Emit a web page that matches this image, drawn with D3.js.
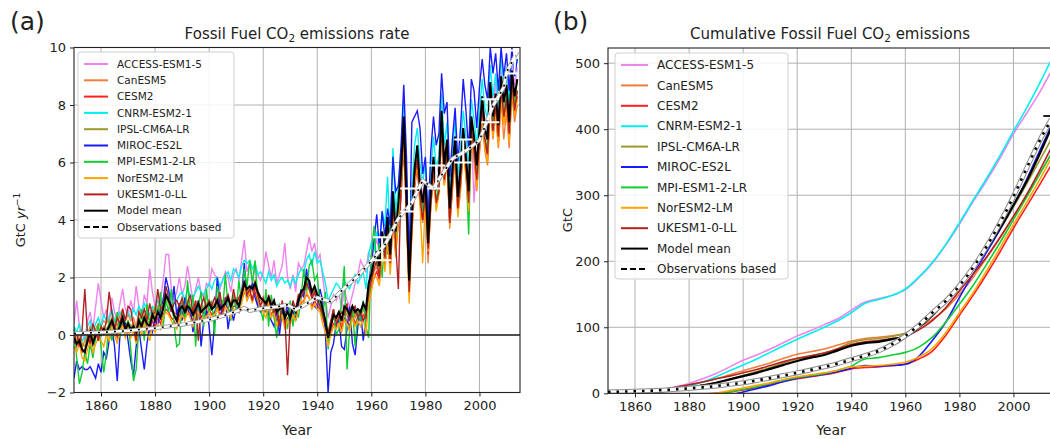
<!DOCTYPE html>
<html lang="en">
<head>
<meta charset="UTF-8" />
<title>fossil fuel co2</title>
<script src="https://cdn.jsdelivr.net/npm/d3@7"></script>
<style>
  body { margin: 0; background: #fff; }
  svg { display: block; font-family: "DejaVu Sans", sans-serif; }
</style>
</head>
<body>
<svg id="chart" width="1050" height="439"></svg>
<script>
// ---- data ----
const models = ["ACCESS-ESM1-5", "CanESM5", "CESM2", "CNRM-ESM2-1", "IPSL-CM6A-LR",
  "MIROC-ES2L", "MPI-ESM1-2-LR", "NorESM2-LM", "UKESM1-0-LL"];
const colors = ["violet", "#f47c3c", "#ff1f1f", "#00f0f0", "#9b9b2e",
  "#1a1aff", "#11cc33", "#ffa500", "#b22222"];

const years = d3.range(1850, 2015);

// emission rate, GtC/yr, one value per year 1850..2014
const rateACCESS = [
  0.4, 1.2, 0.3, 0.1, -0.2, 0.5, 0.8, 0.2, 1.0, 1.8,
  1.2, 0.6, 0.9, 0.4, 1.3, 0.8, 0.5, 1.1, 1.6, 0.9,
  0.7, 1.2, 0.8, 1.7, 1.0, 0.6, 1.4, 1.1, 2.3, 1.5,
  1.0, 1.4, 1.2, 1.9, 2.8, 2.8, 1.6, 1.2, 1.5, 2.0,
  1.4, 1.7, 2.4, 1.8, 1.2, 1.6, 2.0, 1.5, 1.3, 1.8,
  1.7, 2.3, 2.1, 2.0, 1.6, 1.9, 2.2, 2.0, 1.5, 2.1,
  2.3, 1.9, 2.6, 3.3, 2.2, 2.5, 1.8, 2.4, 2.1, 1.9,
  2.2, 2.9, 2.4, 2.0, 2.6, 1.8, 2.1, 2.4, 3.2, 2.0,
  1.6, 2.1, 1.5, 2.5, 2.3, 2.4, 2.9, 3.4, 2.9, 3.2,
  2.6, 2.8, 2.0, 1.3, 0.6, 1.0, 1.4, 1.2, 1.5, 0.9,
  1.6, 1.2, 1.0, 1.4, 1.8, 2.1, 2.6, 2.4, 2.2, 2.9,
  2.6, 3.0, 3.3, 2.9, 3.4, 2.8, 3.6, 3.1, 4.8, 3.5,
  4.4, 5.5, 7.0, 5.0, 2.5, 4.5, 5.6, 6.3, 5.4, 4.9,
  5.2, 3.6, 5.3, 6.0, 5.6, 5.9, 7.4, 6.1, 6.5, 4.7,
  6.0, 6.6, 5.2, 6.1, 7.0, 6.5, 5.4, 7.2, 4.6, 6.2,
  7.4, 8.0, 7.5, 7.1, 8.5, 7.9, 8.8, 7.5, 9.2, 8.4,
  9.0, 7.8, 9.5, 8.7, 9.3];
const rateCanESM5 = [
  0.2, -0.3, 0.1, -0.4, -0.2, 0.0, 0.3, -0.1, 0.2, 0.4,
  0.3, 0.5, 0.4, 0.6, 0.8, 0.5, 0.3, 0.7, 0.9, 0.5,
  0.7, 0.5, 0.6, 0.3, 0.8, 0.6, 0.9, 0.7, 0.5, 0.9,
  0.7, 1.0, 0.8, 1.1, 1.3, 1.2, 1.0, 0.8, 0.7, 1.1,
  1.1, 0.9, 1.2, 1.0, 0.8, 1.1, 1.2, 0.9, 1.0, 1.1,
  1.2, 1.0, 1.1, 1.3, 1.0, 1.2, 1.3, 1.4, 1.1, 1.3,
  1.3, 1.2, 1.5, 1.7, 1.5, 1.6, 1.5, 1.9, 1.4, 1.2,
  1.1, 1.0, 1.2, 0.9, 1.1, 0.7, 0.9, 1.0, 0.6, 0.8,
  0.7, 1.0, 0.8, 1.2, 1.4, 1.5, 1.7, 1.6, 1.3, 1.4,
  1.2, 1.1, 0.8, 0.4, 0.0, 0.3, 0.6, 0.5, 0.7, 0.4,
  0.8, 0.7, 0.5, 0.9, 0.6, 0.8, 0.6, 0.9, 0.7, 1.4,
  1.7, 2.2, 2.4, 2.0, 3.1, 2.5, 3.5, 2.4, 4.4, 3.0,
  4.1, 5.0, 6.8, 4.3, 1.4, 3.7, 5.3, 5.9, 4.7, 3.9,
  4.9, 2.5, 4.6, 5.6, 4.4, 5.0, 7.2, 5.2, 6.1, 3.7,
  5.0, 6.2, 4.2, 5.1, 6.6, 5.7, 4.2, 6.9, 6.1, 5.0,
  6.3, 7.6, 6.4, 5.9, 7.9, 6.8, 7.7, 6.5, 8.2, 6.8,
  7.8, 6.5, 8.4, 7.4, 8.0];
const rateCESM2 = [
  -0.2, -0.4, -0.1, -0.6, -0.5, -0.3, 0.0, -0.2, 0.1, -0.1,
  0.1, 0.0, 0.2, 0.1, 0.4, 0.3, -0.1, 0.2, 0.4, 0.1,
  0.3, 0.1, 0.2, -0.1, 0.4, 0.2, 0.5, 0.3, 0.1, 0.5,
  0.3, 0.6, 0.4, 0.7, 0.9, 0.8, 0.6, 0.5, 0.3, 0.7,
  0.8, 0.6, 0.9, 0.7, 0.5, 0.8, 0.9, 0.6, 0.8, 0.7,
  0.9, 0.7, 0.8, 1.0, 0.7, 0.9, 1.1, 0.9, 0.8, 1.0,
  1.0, 0.9, 1.2, 1.5, 1.3, 1.4, 1.2, 1.5, 1.1, 1.0,
  0.9, 0.8, 1.0, 0.7, 0.9, 0.5, 0.6, 0.8, 0.4, 0.6,
  0.5, 0.8, 0.6, 1.0, 1.1, 1.2, 1.4, 1.3, 1.0, 1.2,
  1.0, 0.9, 0.6, 0.3, -0.3, 0.1, 0.4, 0.3, 0.6, 0.2,
  0.6, 0.5, 0.3, 0.7, 0.4, 0.6, 0.5, 0.7, 0.5, 1.2,
  1.6, 2.0, 2.2, 1.9, 2.8, 2.4, 3.2, 2.3, 4.0, 2.9,
  3.9, 4.8, 6.6, 4.2, 1.6, 3.6, 5.1, 5.9, 4.6, 4.0,
  4.8, 2.8, 4.5, 5.6, 4.5, 5.0, 7.0, 5.3, 6.1, 3.9,
  5.2, 6.3, 4.3, 5.2, 6.6, 5.6, 4.5, 7.0, 6.3, 5.3,
  6.5, 7.7, 6.6, 6.2, 8.1, 7.0, 7.8, 6.7, 8.4, 7.5,
  8.0, 6.8, 8.6, 7.7, 8.3];
const rateCNRM = [
  0.3, 0.1, 0.4, -0.2, -0.1, 0.3, 0.5, 0.1, 0.4, 0.6,
  0.3, 0.7, 0.5, 0.6, 0.9, 0.5, 0.6, 0.8, 0.7, 0.6,
  0.8, 0.6, 0.9, 0.7, 1.0, 0.8, 1.1, 0.9, 0.7, 1.0,
  0.9, 1.2, 1.0, 1.3, 1.6, 1.5, 1.3, 1.1, 1.2, 1.4,
  1.5, 1.2, 1.6, 1.4, 1.3, 1.5, 1.7, 1.5, 1.4, 1.6,
  1.8, 1.6, 1.9, 2.0, 1.7, 1.9, 2.1, 2.2, 1.9, 2.3,
  2.2, 2.0, 2.4, 2.6, 2.5, 2.6, 2.3, 2.5, 2.1, 2.2,
  2.0, 1.8, 2.2, 1.9, 2.1, 1.7, 1.9, 2.0, 1.8, 1.9,
  1.7, 2.0, 1.8, 2.1, 2.3, 2.2, 2.6, 2.8, 2.4, 2.9,
  2.5, 2.6, 2.2, 1.8, 1.2, 1.4, 1.6, 1.8, 1.7, 1.5,
  1.9, 1.7, 1.6, 1.9, 2.1, 1.8, 2.0, 2.2, 1.6, 2.8,
  3.2, 2.9, 3.6, 3.1, 4.3, 3.8, 5.5, 3.4, 6.5, 4.2,
  5.2, 6.3, 8.2, 5.6, 2.6, 5.0, 6.6, 7.2, 6.0, 5.3,
  6.0, 4.0, 5.7, 6.9, 5.8, 6.2, 8.4, 6.6, 7.4, 5.1,
  6.4, 7.5, 5.5, 6.5, 7.8, 6.9, 5.8, 8.2, 7.5, 6.6,
  7.8, 8.9, 7.9, 7.5, 9.4, 8.3, 9.1, 8.0, 9.6, 8.8,
  9.3, 8.1, 9.8, 9.0, 9.6];
const rateIPSL = [
  0.0, -0.2, 0.1, -0.3, -0.4, 0.0, 0.2, -0.1, 0.1, 0.2,
  0.1, 0.3, 0.2, 0.4, 0.6, 0.3, 0.2, 0.4, 0.7, 0.3,
  0.5, 0.3, 0.4, 0.2, 0.6, 0.4, 0.7, 0.5, 0.4, 0.8,
  0.6, 0.9, 0.7, 1.0, 1.3, 1.1, 0.9, 0.7, 0.6, 1.0,
  1.0, 0.8, 1.1, 0.9, 0.7, 1.0, 1.1, 0.8, 0.9, 1.0,
  1.1, 0.9, 1.0, 1.2, 0.9, 1.1, 1.2, 1.3, 1.0, 1.2,
  1.2, 1.1, 1.4, 1.8, 1.5, 1.7, 1.6, 1.9, 1.5, 1.3,
  1.2, 1.1, 1.3, 1.0, 1.2, 0.8, 1.0, 1.1, 0.7, 0.9,
  0.7, 1.0, 0.9, 1.2, 1.5, 1.6, 1.9, 1.8, 1.4, 1.6,
  1.3, 1.2, 0.9, 0.5, 0.0, 0.3, 0.7, 0.6, 0.8, 0.5,
  0.9, 0.8, 0.6, 1.0, 0.7, 0.9, 0.7, 1.0, 0.8, 1.6,
  2.0, 2.5, 2.8, 2.3, 3.5, 2.9, 4.0, 2.7, 4.9, 3.5,
  4.5, 5.7, 7.4, 4.7, 1.8, 4.1, 5.7, 6.5, 5.1, 4.5,
  5.3, 3.1, 4.9, 6.1, 5.0, 5.5, 7.7, 5.8, 6.7, 4.3,
  5.7, 6.8, 4.7, 5.7, 7.1, 6.1, 4.9, 7.5, 6.8, 5.8,
  7.0, 8.2, 7.1, 6.7, 8.7, 7.5, 8.3, 7.2, 8.9, 8.0,
  8.6, 7.3, 9.1, 8.2, 8.8];
const rateMIROC = [
  -1.5, -0.9, -1.2, -1.1, -1.2, -1.2, -1.1, -1.3, -1.5, -1.0,
  -1.3, -0.6, -0.8, -0.2, 0.3, -0.4, -1.6, 0.0, 0.6, 0.4,
  -0.2, -0.9, -1.4, -0.4, 0.2, -0.5, -1.2, -0.3, 0.3, 0.1,
  0.6, 0.3, 0.9, 1.2, 2.0, 1.6, 0.8, 1.7, 0.7, 1.1,
  0.5, 1.3, 0.7, 1.0, 0.1, 0.6, 1.2, -0.4, 0.5, 0.9,
  0.3, -0.7, 0.4, 2.0, 1.1, 0.6, 1.3, 0.2, 0.9, 0.5,
  1.0, 0.8, 1.4, 2.5, 1.2, 1.5, 1.8, 1.3, 1.0, 0.8,
  0.9, 1.2, 0.7, 0.5, 0.3, 0.9, 0.0, 0.8, 0.6, 1.1,
  0.4, 0.8, 0.5, 1.0, 1.6, 1.3, 2.3, 1.7, 1.4, 1.0,
  0.9, 1.6, 1.2, 0.1, -2.0, -0.6, -0.3, 0.4, 0.5, -0.4,
  -0.5, 0.2, 1.0, -0.3, -0.7, 0.3, 0.9, -0.2, 0.6, 1.7,
  2.5, 3.3, 4.2, 3.0, 4.3, 3.4, 4.4, 3.8, 6.2, 5.0,
  5.2, 6.6, 8.7, 6.2, 2.4, 7.4, 7.6, 7.8, 7.2, 5.6,
  6.2, 4.0, 6.4, 7.6, 6.6, 7.0, 9.1, 7.7, 8.1, 5.5,
  6.8, 7.9, 6.0, 7.2, 8.9, 7.8, 6.4, 8.9, 8.5, 7.2,
  8.6, 9.6, 8.7, 8.2, 10.0, 9.1, 9.8, 8.5, 10.0, 9.0,
  9.8, 8.5, 10.0, 9.0, 9.6];
const rateMPI = [
  0.3, -0.8, -1.7, -1.3, -0.6, -1.0, -0.3, -0.8, -0.1, 0.4,
  -0.4, -1.3, -0.6, 0.5, -0.2, 0.3, 0.8, -0.1, 0.7, 0.2,
  0.5, -0.5, -1.6, -1.2, 0.3, 0.9, -0.2, 1.1, 0.4, 0.6,
  1.0, 0.7, 1.5, 0.3, 1.2, 0.8, 1.6, 0.4, -0.4, -0.3,
  1.2, 0.5, 1.9, 0.8, 1.4, -0.4, 1.0, 1.5, 0.3, 1.6,
  0.7, 1.2, 0.0, 1.7, 1.3, 0.9, 2.1, 1.0, 0.5, 1.4,
  0.8, 1.9, 1.1, 2.3, 1.7, 2.6, 1.8, 2.6, 1.2, 0.9,
  0.5, 1.6, 0.3, 1.4, 0.6, -0.1, 1.1, 0.5, 0.8, 0.2,
  1.2, 0.3, 1.0, 0.6, 1.3, 2.3, 1.4, 2.4, 2.6, 1.9,
  2.1, 1.0, 0.6, 1.5, -0.5, 0.4, 0.9, 0.0, 0.2, 1.2,
  2.4, -1.2, 0.2, 1.0, -0.4, 0.8, 0.5, 1.2, 0.3, -0.1,
  2.8, 3.8, 2.4, 3.2, 2.0, 3.5, 2.8, 3.3, 4.3, 3.4,
  4.2, 5.1, 6.7, 4.6, 2.0, 3.9, 5.4, 6.0, 5.2, 4.3,
  5.0, 3.0, 4.8, 5.9, 4.6, 5.3, 7.2, 5.5, 6.3, 4.1,
  5.4, 6.4, 4.5, 5.6, 6.9, 5.9, 3.5, 7.0, 6.6, 5.7,
  6.9, 8.0, 6.8, 6.5, 8.6, 7.3, 8.1, 7.0, 8.7, 7.7,
  8.3, 7.0, 8.9, 8.0, 8.5];
const rateNorESM = [
  -0.4, -0.6, -0.3, -0.8, -0.9, -0.5, -0.2, -0.6, -0.3, -0.1,
  -0.2, -0.4, 0.0, -0.2, 0.3, 0.0, -0.3, 0.2, 0.3, -0.1,
  0.2, -0.1, 0.1, -0.3, 0.3, 0.0, 0.4, 0.1, -0.2, 0.3,
  0.1, 0.4, 0.2, 0.6, 0.8, 0.7, 0.5, 0.3, 0.2, 0.5,
  0.7, 0.5, 0.8, 0.6, 0.3, 0.7, 0.8, 0.5, 0.6, 0.6,
  0.8, 0.5, 0.7, 0.9, 0.6, 0.7, 1.0, 0.8, 0.6, 0.9,
  0.9, 0.8, 1.1, 1.6, 1.2, 1.5, 1.1, 1.8, 1.3, 0.9,
  0.8, 0.6, 1.1, 0.6, 0.8, 0.3, 0.6, 0.7, 0.2, 0.5,
  0.4, 0.7, 0.5, 0.9, 1.2, 1.1, 1.5, 1.3, 0.9, 1.1,
  0.9, 0.8, 0.4, 0.1, -0.4, 0.0, 0.3, 0.2, 0.4, 0.1,
  0.5, 0.4, 0.1, 0.6, 0.3, 0.5, 0.3, 0.6, 0.0, 1.1,
  1.5, 2.1, 2.0, 1.7, 3.0, 2.2, 3.3, 2.1, 4.2, 2.7,
  4.0, 5.0, 6.9, 4.0, 1.1, 3.5, 5.2, 6.0, 4.5, 2.5,
  4.7, 2.9, 4.4, 5.7, 4.3, 4.9, 7.1, 5.2, 6.0, 3.8,
  5.1, 6.2, 4.1, 5.0, 6.5, 5.5, 4.3, 6.9, 6.2, 5.1,
  6.4, 7.6, 6.5, 6.0, 8.0, 6.9, 7.7, 6.6, 8.3, 7.3,
  7.9, 6.7, 8.5, 7.6, 8.2];
const rateUKESM = [
  -0.3, 0.1, -0.4, 0.2, 1.6, 0.0, -0.3, 0.4, 0.1, -0.2,
  0.3, 0.1, 0.5, 1.5, 0.8, 0.2, 0.6, 0.4, 0.9, 0.5,
  1.0, 0.9, 0.3, -0.2, 0.8, 0.6, 0.9, 0.5, 1.1, 0.7,
  0.8, 1.6, 0.9, 1.0, 1.7, 1.3, 0.8, 1.1, 1.2, 1.0,
  1.3, 0.9, 1.1, 1.4, 0.8, 1.2, -0.2, 1.0, 1.3, 0.9,
  1.2, 1.0, 1.3, 1.1, 1.5, 0.8, 1.2, 1.4, 0.9, 1.6,
  1.1, 1.3, 1.5, 1.9, 1.4, 1.6, 1.2, 1.7, 1.4, 1.0,
  1.3, 0.9, 1.4, 1.1, 0.8, 1.0, 0.3, 1.2, 0.7, -1.4,
  0.6, 1.2, 0.9, 1.4, 1.3, 1.5, 1.8, 1.6, 1.3, 1.5,
  1.2, 1.0, 0.7, 0.4, 0.1, 0.5, 0.9, 0.4, 0.6, 0.8,
  0.7, 1.1, 0.5, 0.9, 1.0, 0.6, 0.8, 0.5, 0.7, 1.5,
  1.9, 2.3, 2.6, 2.0, 3.4, 2.7, 3.8, 2.5, 4.6, 3.2,
  1.6, 5.3, 7.2, 4.2, 1.5, 3.8, 5.5, 6.1, 4.8, 4.0,
  5.0, 3.0, 4.6, 5.8, 4.6, 5.0, 7.3, 5.4, 6.2, 3.9,
  5.3, 6.5, 4.4, 5.3, 6.8, 5.8, 4.6, 7.2, 6.4, 5.4,
  6.7, 7.9, 6.8, 6.3, 8.3, 7.1, 8.0, 6.9, 8.6, 7.6,
  8.2, 7.0, 8.8, 7.8, 8.5];
const rateMean = [
  -0.1, -0.3, -0.2, -0.5, -0.6, -0.2, 0.1, -0.3, 0.0, 0.1,
  0.0, 0.2, 0.1, 0.3, 0.5, 0.2, 0.1, 0.3, 0.6, 0.2,
  0.4, 0.2, 0.3, 0.1, 0.5, 0.3, 0.6, 0.4, 0.3, 0.7,
  0.5, 0.8, 0.6, 0.9, 1.4, 1.2, 1.0, 0.7, 0.5, 0.9,
  1.0, 0.8, 1.0, 0.9, 0.7, 0.9, 1.1, 0.8, 0.9, 1.0,
  1.1, 0.9, 1.0, 1.2, 0.9, 1.0, 1.1, 1.3, 1.0, 1.2,
  1.2, 1.0, 1.4, 1.8, 1.6, 1.7, 1.6, 1.8, 1.5, 1.3,
  1.2, 1.1, 1.3, 1.0, 1.2, 0.8, 0.9, 1.0, 0.6, 0.8,
  0.6, 1.0, 0.8, 1.2, 1.5, 1.6, 2.0, 1.9, 1.5, 1.7,
  1.4, 1.3, 0.9, 0.5, -0.1, 0.3, 0.7, 0.6, 0.8, 0.5,
  1.0, 0.9, 0.7, 1.0, 0.8, 0.9, 0.8, 1.1, 0.9, 1.8,
  2.1, 2.6, 2.9, 2.4, 3.6, 3.0, 4.1, 2.8, 5.0, 3.6,
  4.6, 5.8, 7.6, 4.8, 1.9, 4.2, 5.8, 6.6, 5.2, 4.6,
  5.4, 3.2, 5.0, 6.2, 5.1, 5.6, 7.8, 5.9, 6.8, 4.4,
  5.8, 6.9, 4.8, 5.8, 7.2, 6.2, 5.0, 7.6, 6.9, 5.9,
  7.1, 8.3, 7.2, 6.8, 8.8, 7.6, 8.4, 7.3, 9.0, 8.1,
  8.7, 7.4, 9.2, 8.3, 8.9];

const obsYears = [1850, 1860, 1870, 1880, 1890, 1900, 1905, 1910, 1913, 1915, 1920, 1925,
  1929, 1932, 1935, 1940, 1945, 1950, 1955, 1960, 1965, 1970, 1975, 1979, 1980, 1983,
  1985, 1990, 1995, 2000, 2005, 2009, 2010, 2014];
const obsRate = [0.05, 0.09, 0.15, 0.24, 0.36, 0.53, 0.66, 0.82, 0.94, 0.84, 0.93, 0.98,
  1.05, 0.88, 1.03, 1.30, 1.16, 1.63, 2.05, 2.58, 3.13, 4.05, 4.60, 5.37, 5.30, 5.10,
  5.42, 6.13, 6.41, 6.77, 7.97, 8.62, 9.13, 9.86];
const errYears = [1964, 1974, 1984, 1994, 2004, 2013];
const errLo = [2.6, 4.3, 5.1, 6.0, 7.4, 9.1];
const errHi = [3.4, 5.1, 5.9, 6.8, 8.2, 9.9];

// cumulative emissions, GtC
const cumYears = [1850, 1855, 1860, 1865, 1870, 1875, 1880, 1885, 1890, 1895, 1900, 1905,
  1910, 1915, 1920, 1925, 1930, 1935, 1940, 1945, 1950, 1955, 1960, 1965, 1970, 1975,
  1980, 1985, 1990, 1995, 2000, 2005, 2010, 2014];
const cumACCESS = [0, 0, 1, 3, 6, 10, 15, 22, 30, 40, 50, 58, 67, 77, 87, 95, 104, 113,
  126, 138, 143, 148, 157, 175, 197, 225, 256, 290, 322, 356, 393, 425, 458, 488];
const cumCanESM5 = [0, 0, 1, 2, 4, 8, 12, 17, 22, 28, 34, 40, 46, 53, 59, 63, 67, 73,
  79, 83, 85, 87, 91, 100, 112, 128, 150, 175, 205, 235, 268, 300, 335, 362];
const cumCESM2 = [0, -1, -2, -2, -2, -2, -2, -1, 0, 2, 5, 9, 14, 18, 22, 25, 28, 32,
  37, 39, 40, 42, 44, 52, 64, 88, 118, 148, 180, 214, 250, 284, 318, 346];
const cumCNRM = [0, 0, 0, 2, 4, 7, 11, 17, 25, 34, 43, 52, 62, 72, 82, 91, 100, 110,
  122, 136, 142, 148, 158, 176, 198, 226, 258, 292, 325, 360, 397, 433, 472, 505];
const cumIPSL = [0, 0, 0, 1, 3, 5, 8, 12, 16, 21, 27, 33, 39, 46, 52, 56, 61, 68,
  77, 81, 83, 86, 91, 103, 120, 140, 163, 188, 217, 248, 282, 318, 355, 385];
const cumMIROC = [0, -4, -8, -10, -12, -13, -13, -10, -7, -3, 2, 7, 12, 18, 23, 26, 29, 33,
  38, 42, 41, 42, 44, 56, 80, 108, 145, 180, 213, 248, 285, 325, 370, 405];
const cumMPI = [0, -4, -7, -8, -9, -8, -6, -4, -2, 2, 6, 10, 15, 20, 24, 27, 30, 35,
  41, 52, 54, 58, 62, 70, 85, 108, 135, 163, 195, 228, 263, 298, 334, 363];
const cumNorESM = [0, -3, -5, -6, -6, -6, -5, -3, 0, 4, 8, 12, 16, 21, 25, 28, 31, 35,
  40, 41, 42, 44, 47, 55, 68, 92, 122, 152, 185, 220, 256, 290, 326, 356];
const cumUKESM = [0, 0, 1, 3, 5, 9, 13, 17, 22, 26, 31, 36, 42, 48, 53, 57, 61, 67,
  74, 78, 80, 83, 86, 96, 110, 130, 155, 180, 206, 236, 268, 302, 340, 372];
const cumMean = [0, 0, 1, 2, 3, 5, 8, 12, 16, 21, 26, 31, 37, 43, 49, 54, 58, 65,
  72, 76, 78, 82, 86, 100, 118, 140, 163, 190, 218, 250, 285, 322, 365, 402];
const cumObs = [2, 2.5, 3, 3.8, 4.8, 6, 7.5, 9, 11, 13.5, 16, 19.5, 23, 27, 31, 35.5, 40, 45,
  51, 57, 64, 74, 87, 103, 122, 140, 163, 190, 222, 258, 298, 342, 385, 415];
const cumErrYear = 2014, cumErrLo = 400, cumErrHi = 420;

const rateSeries = [rateACCESS, rateCanESM5, rateCESM2, rateCNRM, rateIPSL,
  rateMIROC, rateMPI, rateNorESM, rateUKESM];
const cumSeries = [cumACCESS, cumCanESM5, cumCESM2, cumCNRM, cumIPSL,
  cumMIROC, cumMPI, cumNorESM, cumUKESM];

// ---- drawing ----
const svg = d3.select("#chart");
const xTicks = [1860, 1880, 1900, 1920, 1940, 1960, 1980, 2000];

function panel(id, box, yDomain, yTicks) {
  const x = d3.scaleLinear().domain([1850, 2015]).range([box.x0, box.x1]);
  const y = d3.scaleLinear().domain(yDomain).range([box.y1, box.y0]);
  const g = svg.append("g").attr("class", "panel-" + id);

  g.append("clipPath").attr("id", "clip-" + id)
    .append("rect").attr("x", box.x0).attr("y", box.y0)
    .attr("width", box.x1 - box.x0).attr("height", box.y1 - box.y0);

  // grid
  g.append("g").selectAll("line").data(xTicks).join("line")
    .attr("x1", d => x(d)).attr("x2", d => x(d))
    .attr("y1", box.y0).attr("y2", box.y1)
    .attr("stroke", "#b0b0b0").attr("stroke-width", 1);
  g.append("g").selectAll("line").data(yTicks).join("line")
    .attr("x1", box.x0).attr("x2", box.x1)
    .attr("y1", d => y(d)).attr("y2", d => y(d))
    .attr("stroke", "#b0b0b0").attr("stroke-width", 1);

  const plot = g.append("g").attr("clip-path", `url(#clip-${id})`);

  // axes
  const xa = g.append("g").attr("transform", `translate(0,${box.y1})`)
    .call(d3.axisBottom(x).tickValues(xTicks).tickFormat(d3.format("d")).tickSize(4).tickPadding(4));
  const ya = g.append("g").attr("transform", `translate(${box.x0},0)`)
    .call(d3.axisLeft(y).tickValues(yTicks).tickSize(4).tickPadding(4));
  [xa, ya].forEach(a => {
    a.select(".domain").remove();
    a.selectAll("text").attr("font-size", 13).attr("fill", "#222")
      .attr("font-family", "DejaVu Sans");
    a.selectAll("line").attr("stroke", "#222");
  });

  // frame
  g.append("rect").attr("x", box.x0).attr("y", box.y0)
    .attr("width", box.x1 - box.x0).attr("height", box.y1 - box.y0)
    .attr("fill", "none").attr("stroke", "#222").attr("stroke-width", 1.1);

  g.append("text").attr("x", (box.x0 + box.x1) / 2).attr("y", box.y1 + 42)
    .attr("text-anchor", "middle").attr("font-size", 14).attr("fill", "#222").text("Year");

  return { x, y, g, plot };
}

function title(g, cx, cy, before, after) {
  const t = g.append("text").attr("x", cx).attr("y", cy).attr("text-anchor", "middle")
    .attr("font-size", 15).attr("fill", "#222");
  t.append("tspan").text(before);
  t.append("tspan").attr("font-size", 10.5).attr("dy", 3).text("2");
  t.append("tspan").attr("dy", -3).text(after);
}

function legend(g, x0, y0, w, h, step, lineLen, fs, lw) {
  const lg = g.append("g");
  lg.append("rect").attr("x", x0).attr("y", y0).attr("width", w).attr("height", h)
    .attr("rx", 3).attr("fill", "white").attr("fill-opacity", 0.85)
    .attr("stroke", "#d0d0d0");
  const items = models.map((m, i) => ({ name: m, color: colors[i], dash: null }))
    .concat([{ name: "Model mean", color: "black", dash: null },
             { name: "Observations based", color: "black", dash: "6,3" }]);
  const rows = lg.selectAll("g").data(items).join("g")
    .attr("transform", (d, i) => `translate(${x0 + 6},${y0 + 12 + i * step})`);
  rows.append("line").attr("x1", 0).attr("x2", lineLen)
    .attr("stroke", d => d.color).attr("stroke-width", lw)
    .attr("stroke-dasharray", d => d.dash);
  rows.append("text").attr("x", lineLen + 9).attr("dy", "0.35em")
    .attr("font-size", fs).attr("fill", "#222").text(d => d.name);
}

// ---- panel (a) ----
const A = panel("a", { x0: 74, x1: 520, y0: 47.5, y1: 392.5 }, [-2, 10], [-2, 0, 2, 4, 6, 8, 10]);
A.g.append("line").attr("x1", 74).attr("x2", 520).attr("y1", A.y(0)).attr("y2", A.y(0))
  .attr("stroke", "#222").attr("stroke-width", 1.4);

const lineA = d3.line().x((d, i) => A.x(years[i])).y(d => A.y(d));
A.plot.selectAll(".model").data(rateSeries).join("path")
  .attr("class", "model").attr("d", lineA).attr("fill", "none")
  .attr("stroke", (d, i) => colors[i]).attr("stroke-width", 1.4);
A.plot.append("path").datum(rateMean).attr("d", lineA).attr("fill", "none")
  .attr("stroke", "black").attr("stroke-width", 2);

const obsA = d3.line().x((d, i) => A.x(obsYears[i])).y(d => A.y(d));
A.plot.append("path").datum(obsRate).attr("d", obsA).attr("fill", "none")
  .attr("stroke", "#9a9a9a").attr("stroke-width", 4);
A.plot.append("path").datum(obsRate).attr("d", obsA).attr("fill", "none")
  .attr("stroke", "white").attr("stroke-width", 2.4);
A.plot.append("path").datum(obsRate).attr("d", obsA).attr("fill", "none")
  .attr("stroke", "black").attr("stroke-width", 1.6).attr("stroke-dasharray", "2,6");

const errA = A.plot.append("g").selectAll("g").data(errYears).join("g");
errA.append("line").attr("x1", d => A.x(d)).attr("x2", d => A.x(d))
  .attr("y1", (d, i) => A.y(errLo[i])).attr("y2", (d, i) => A.y(errHi[i]));
errA.append("line").attr("x1", d => A.x(d) - 9).attr("x2", d => A.x(d) + 9)
  .attr("y1", (d, i) => A.y(errLo[i])).attr("y2", (d, i) => A.y(errLo[i]));
errA.append("line").attr("x1", d => A.x(d) - 9).attr("x2", d => A.x(d) + 9)
  .attr("y1", (d, i) => A.y(errHi[i])).attr("y2", (d, i) => A.y(errHi[i]));
errA.selectAll("line").attr("stroke", "white").attr("stroke-width", 2);

legend(A.g, 78, 52, 156, 186, 16.3, 24, 10.5, 2);
title(A.g, 297, 39, "Fossil Fuel CO", " emissions rate");
A.g.append("text").attr("x", 10).attr("y", 30).attr("font-size", 25).attr("fill", "#222").text("(a)");
const ylabA = A.g.append("text").attr("transform", "translate(25,220) rotate(-90)")
  .attr("text-anchor", "middle").attr("font-size", 13).attr("fill", "#222");
ylabA.append("tspan").text("GtC ");
ylabA.append("tspan").attr("font-style", "italic").text("yr");
ylabA.append("tspan").attr("font-size", 9).attr("dy", -5).text("−1");

// ---- panel (b) ----
const B = panel("b", { x0: 608, x1: 1054, y0: 48, y1: 393.3 }, [0, 523], [0, 100, 200, 300, 400, 500]);

const lineB = d3.line().x((d, i) => B.x(cumYears[i])).y(d => B.y(d)).curve(d3.curveMonotoneX);
B.plot.selectAll(".model").data(cumSeries).join("path")
  .attr("class", "model").attr("d", lineB).attr("fill", "none")
  .attr("stroke", (d, i) => colors[i]).attr("stroke-width", 1.6);
B.plot.append("path").datum(cumMean).attr("d", lineB).attr("fill", "none")
  .attr("stroke", "black").attr("stroke-width", 2.2);
B.plot.append("path").datum(cumObs).attr("d", lineB).attr("fill", "none")
  .attr("stroke", "#8a8a8a").attr("stroke-width", 5);
B.plot.append("path").datum(cumObs).attr("d", lineB).attr("fill", "none")
  .attr("stroke", "white").attr("stroke-width", 3);
B.plot.append("path").datum(cumObs).attr("d", lineB).attr("fill", "none")
  .attr("stroke", "black").attr("stroke-width", 2.6).attr("stroke-dasharray", "2.5,6");

const ex = B.x(cumErrYear);
B.plot.append("line").attr("x1", ex).attr("x2", ex).attr("y1", B.y(cumErrLo)).attr("y2", B.y(cumErrHi))
  .attr("stroke", "#222").attr("stroke-width", 2);
B.plot.append("line").attr("x1", ex - 8).attr("x2", ex + 8).attr("y1", B.y(cumErrHi)).attr("y2", B.y(cumErrHi))
  .attr("stroke", "#222").attr("stroke-width", 2);

legend(B.g, 615, 53, 173, 226, 20.4, 27, 12, 2);
title(B.g, 830, 39, "Cumulative Fossil Fuel CO", " emissions");
B.g.append("text").attr("x", 553).attr("y", 30).attr("font-size", 25).attr("fill", "#222").text("(b)");
B.g.append("text").attr("transform", "translate(572,220) rotate(-90)")
  .attr("text-anchor", "middle").attr("font-size", 13).attr("fill", "#222").text("GtC");
</script>
</body>
</html>
